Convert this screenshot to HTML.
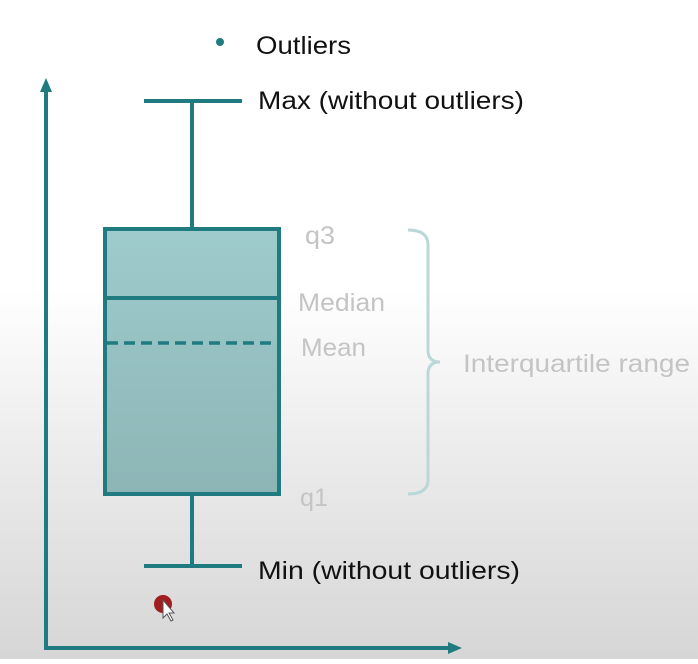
<!DOCTYPE html>
<html><head><style>
body{margin:0;width:698px;height:659px;overflow:hidden;background:linear-gradient(to bottom,#fff 0px,#fff 290px,#ececec 450px,#d6d6d6 659px);font-family:"Liberation Sans",sans-serif}
</style></head><body>
<svg width="698" height="659" viewBox="0 0 698 659" xmlns="http://www.w3.org/2000/svg">
<defs><linearGradient id="bx" x1="0" y1="0" x2="0" y2="1"><stop offset="0" stop-color="#9ecbcc"/><stop offset="1" stop-color="#8db5b6"/></linearGradient></defs>
<g stroke="#1f7b80" stroke-width="4" fill="none">
<line x1="46" y1="88" x2="46" y2="649"/>
<line x1="44" y1="648" x2="452" y2="648"/>
<line x1="192" y1="101" x2="192" y2="228"/>
<line x1="192" y1="494" x2="192" y2="566"/>
<line x1="144" y1="101" x2="242" y2="101"/>
<line x1="144" y1="566" x2="242" y2="566"/>
<rect x="105" y="229" width="174" height="265" fill="url(#bx)"/>
<line x1="105" y1="298" x2="279" y2="298"/>
<line x1="107" y1="343" x2="279" y2="343" stroke-dasharray="11,6" stroke-width="3.5"/>
</g>
<polygon points="46,78 40,92 52,92" fill="#1f7b80"/>
<polygon points="462,648 448,642 448,654" fill="#1f7b80"/>
<circle cx="220" cy="42" r="4" fill="#1f7b80"/>
<path d="M408,230 Q428,230 428,245 L428,350 Q428,362 440,362 Q428,362 428,374 L428,480 Q428,494 408,494" stroke="#b9d8d7" stroke-width="3" fill="none"/>
<circle cx="163" cy="604" r="9" fill="#a11d1f"/>
<path d="M163,600 L163,618 L167,614 L171,621 L173,620 L169,613 L174,613 Z" fill="#fff" stroke="#555" stroke-width="1"/>
<g font-size="25" fill="#111" lengthAdjust="spacingAndGlyphs">
<text x="256" y="54" textLength="95" lengthAdjust="spacingAndGlyphs">Outliers</text>
<text x="258" y="109" textLength="266" lengthAdjust="spacingAndGlyphs">Max (without outliers)</text>
<text x="258" y="579" textLength="262" lengthAdjust="spacingAndGlyphs">Min (without outliers)</text>
</g>
<g font-size="25" fill="#c4c4c4">
<text x="305" y="244" textLength="30" lengthAdjust="spacingAndGlyphs">q3</text>
<text x="298" y="311" textLength="87" lengthAdjust="spacingAndGlyphs">Median</text>
<text x="301" y="356" textLength="65" lengthAdjust="spacingAndGlyphs">Mean</text>
<text x="300" y="506" textLength="28" lengthAdjust="spacingAndGlyphs">q1</text>
<text x="463" y="372" textLength="227" lengthAdjust="spacingAndGlyphs">Interquartile range</text>
</g>
</svg>
</body></html>
